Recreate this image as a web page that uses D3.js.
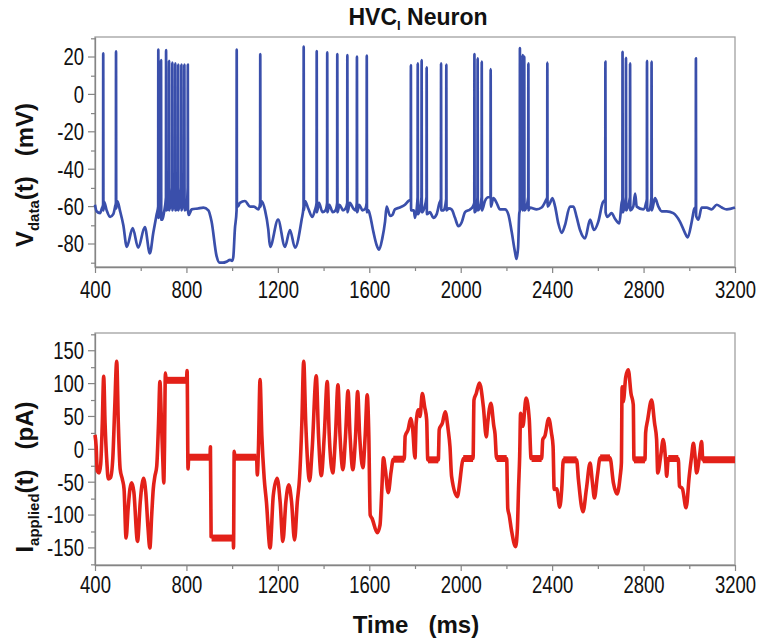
<!DOCTYPE html>
<html><head><meta charset="utf-8">
<script src="https://cdn.jsdelivr.net/npm/d3@7"></script>
<style>
body{margin:0;background:#fff;}
svg{display:block;font-family:"Liberation Sans",Arial,sans-serif;}
</style></head>
<body><svg id="c" width="759" height="642"></svg>
<script>
// ---- data ----
const xTicks = [400,800,1200,1600,2000,2400,2800,3200];
const xMinor = [600,1000,1400,1800,2200,2600,3000];
const vTicks = [-80,-60,-40,-20,0,20];
const vMinor = [-90,-70,-50,-30,-10,10,30];
const iTicks = [-150,-100,-50,0,50,100,150];
const iMinor = [-175,-125,-75,-25,25,75,125,175];

// membrane voltage baseline (ms, mV)
const vBase = [[400,-59],[407,-62.5],[422,-63.5],[430,-61],[440,-57.5],[451,-62],[466,-65.5],[480,-64],[488,-60],[498,-57],[509,-62],[524,-70],[539,-81.5],[565,-71.5],[589,-82],[618,-71],[640,-85],[655,-74],[670,-64],[683,-64],[695,-67],[702,-63],[720,-61],[760,-61],[800,-61],[810,-64.5],[823,-61.5],[850,-61],[874,-60.5],[896,-62],[910,-68],[932,-86.5],[945,-90],[960,-90],[975,-89.5],[991,-88.5],[1000,-89],[1005,-87],[1012,-72],[1025,-60],[1034,-58],[1056,-57],[1078,-60],[1095,-60],[1115,-61.5],[1129,-57],[1144,-62],[1158,-72],[1166,-81.5],[1201,-67],[1231,-81.5],[1253,-72.5],[1275,-82],[1304,-67],[1319,-57],[1333,-61],[1351,-65.5],[1362,-62],[1380,-58],[1395,-63],[1408,-62],[1425,-59],[1440,-63],[1452,-62],[1470,-59],[1485,-62],[1496,-61],[1515,-58],[1530,-61],[1540,-62],[1556,-59],[1570,-62],[1583,-61],[1596,-62],[1603,-64.5],[1618,-73.5],[1632,-80.5],[1643,-83],[1657,-77],[1669,-68],[1676,-60],[1691,-65],[1701,-64.5],[1712,-61.5],[1734,-60.5],[1756,-59],[1771,-57],[1795,-62],[1800,-66],[1820,-62],[1840,-61],[1866,-63],[1880,-66],[1895,-64],[1907,-58],[1925,-62],[1948,-61],[1960,-61.5],[1975,-66],[1990,-70.5],[2004,-68.5],[2019,-63],[2041,-61.5],[2053,-60],[2067,-62],[2082,-61],[2106,-57],[2120,-55],[2143,-55.5],[2157,-58],[2172,-61.5],[2194,-61.5],[2208,-64],[2223,-73.5],[2237,-84],[2244,-88],[2251,-82],[2256,-64],[2285,-61],[2303,-60.5],[2332,-61.5],[2354,-60.5],[2373,-56.5],[2391,-58],[2401,-55.5],[2413,-60],[2427,-69],[2442,-74],[2456,-70],[2478,-60],[2493,-60],[2507,-65.5],[2522,-72.5],[2544,-77],[2566,-67],[2583,-72.5],[2602,-68],[2621,-58],[2642,-65.5],[2660,-63.5],[2675,-66.5],[2694,-69],[2704,-58],[2755,-60],[2763,-53],[2770,-60],[2799,-61.5],[2811,-58],[2825,-62],[2850,-55.5],[2865,-60],[2879,-62.5],[2901,-62.5],[2930,-63.5],[2959,-68],[2981,-74],[2993,-76.5],[3010,-68.5],[3021,-61.5],[3040,-67],[3054,-60.5],[3076,-60.5],[3098,-61.5],[3120,-59],[3142,-60.5],[3164,-61.5],[3200,-60.5]];

// action potentials
const spikeTimes  = [436,492,677,689,711,724,738,751,764,778,791,806,1020,1123,1313,1370,1416,1460,1504,1546,1589,1782,1812,1829,1851,1914,1937,2060,2074,2092,2131,2259,2271,2278,2296,2379,2633,2708,2723,2741,2815,2835,3029];
const spikePeaks  = [22,23,24,18.4,23.7,18,17,16.6,16,16,16,16,24,21.6,25.5,23.2,22.5,21.6,21,20.2,20.7,15.7,16.6,18.4,14.5,16.6,16,21.6,19.3,17.5,13.5,24.8,21,20.2,16.6,17,17.5,22.8,19.6,16.6,17.9,17.5,19.3];
const spikeThresh = [-59,-58,-60,-52,-55,-50,-50,-50,-50,-50,-50,-50,-62,-58,-60,-58,-58,-58,-58,-58,-58,-56,-55,-55,-55,-56,-56,-58,-55,-55,-55,-62,-55,-55,-55,-55,-56,-56,-55,-55,-56,-55,-60];
const spikeTrough = [-62,-61,-66,-67,-62,-62,-62,-62,-62,-62,-62,-62,-60,-60,-62,-63,-63,-63,-63,-63,-63,-62,-64,-63,-64,-62,-62,-63,-62,-62,-60,-62,-62,-62,-62,-60,-63,-63,-62,-62,-62,-62,-65];

// applied current (ms, pA)
const iTrace = [[400,22],[405,5],[410,-33],[418,-36],[425,-22],[432,40],[438,111],[444,40],[452,-20],[458,-45],[468,-43],[478,-13],[486,60],[495,134],[502,40],[510,-30],[520,-46],[527,-60],[536,-135],[545,-90],[553,-60],[561,-51],[570,-65],[586,-140],[598,-80],[605,-55],[612,-44],[622,-65],[632,-120],[640,-150],[648,-100],[655,-60],[662,-41],[670,-26],[678,40],[684,103],[690,50],[697,-20],[701,-51],[704,0],[708,116],[712,104],[800,104],[803,120],[807,-30],[810,-12],[903,-12],[905,4],[908,-133],[1005,-135],[1006,-150],[1009,-3],[1012,-12],[1107,-12],[1110,-39],[1115,0],[1122,106],[1130,20],[1140,-43],[1150,-80],[1166,-150],[1180,-70],[1197,-44],[1210,-80],[1222,-140],[1235,-80],[1248,-54],[1260,-80],[1273,-138],[1285,-80],[1295,-43],[1305,40],[1313,134],[1322,40],[1339,-48],[1350,0],[1368,112],[1378,20],[1390,-40],[1403,20],[1416,103],[1425,20],[1440,-36],[1452,20],[1463,98],[1472,20],[1485,-31],[1496,20],[1507,89],[1516,20],[1528,-31],[1540,20],[1549,88],[1558,20],[1572,-28],[1582,20],[1591,83],[1598,20],[1604,-100],[1612,-105],[1635,-127],[1647,-115],[1655,-60],[1662,-13],[1670,-30],[1683,-66],[1695,-35],[1705,-15],[1753,-15],[1757,20],[1770,30],[1781,47],[1790,30],[1800,-13],[1805,40],[1815,60],[1822,50],[1832,85],[1842,65],[1851,45],[1856,-16],[1902,-16],[1906,30],[1920,40],[1932,57],[1945,30],[1953,4],[1960,-41],[1985,-72],[1996,-50],[2004,-26],[2011,-14],[2054,-14],[2058,75],[2068,85],[2082,101],[2099,65],[2112,19],[2118,40],[2132,70],[2145,35],[2150,24],[2157,-14],[2201,-14],[2206,-90],[2212,-100],[2222,-123],[2240,-148],[2248,-120],[2253,-60],[2258,-10],[2262,55],[2272,35],[2286,78],[2300,45],[2308,-14],[2354,-14],[2359,15],[2368,20],[2385,47],[2397,25],[2404,5],[2409,-61],[2420,-60],[2433,-88],[2442,-60],[2449,-16],[2507,-16],[2515,-46],[2535,-95],[2550,-60],[2566,-21],[2576,-50],[2585,-74],[2598,-40],[2610,-13],[2653,-13],[2668,-51],[2684,-68],[2698,-40],[2703,-21],[2706,95],[2711,72],[2722,110],[2733,121],[2745,85],[2755,68],[2758,-16],[2806,-16],[2809,25],[2818,45],[2835,75],[2848,40],[2857,15],[2862,-36],[2875,-10],[2886,15],[2897,-20],[2901,-41],[2908,-14],[2952,-14],[2957,-56],[2970,-60],[2986,-89],[3000,-40],[3010,-11],[3018,9],[3025,-10],[3032,-36],[3045,-10],[3054,12],[3059,-16],[3200,-16]];

// noisy holding segments of the current [start, end, level]
const iFlats = [[712,800,105],[810,903,-12],[910,1005,-135],[1012,1107,-12],[1705,1753,-15],[1857,1902,-16],[2011,2054,-14],[2157,2201,-14],[2310,2354,-14],[2449,2507,-16],[2610,2653,-13],[2758,2806,-16],[2908,2952,-14],[3059,3200,-16]];

// ---- drawing ----
const svg = d3.select("#c");
const L = 95, R = 735;
const top1 = 37, bot1 = 267, top2 = 333, bot2 = 565;
const x = d3.scaleLinear([400,3200],[L,R]);
const yV = d3.scaleLinear([-92.3,30.7],[bot1,top1]);
const yI = d3.scaleLinear([-176,177],[bot2,top2]);
const axisColor = "#858585";
const blue = "#3a4fab", red = "#e32119";
const fs = 18.5, sy = 1.28;
const fmt = d => String(d);

function frame(t,b){
  svg.append("rect").attr("x",L).attr("y",t).attr("width",R-L).attr("height",b-t)
    .attr("fill","none").attr("stroke","#a0a0a0").attr("stroke-width",1.3);
}
function xAxis(yPos, labelY){
  const gm = svg.append("g").attr("transform",`translate(0,${yPos})`)
    .call(d3.axisBottom(x).tickValues(xMinor).tickSize(4).tickFormat(""));
  gm.select(".domain").remove();
  gm.selectAll("line").attr("stroke",axisColor).attr("stroke-width",1.2);
  const g = svg.append("g").attr("transform",`translate(0,${yPos})`)
    .call(d3.axisBottom(x).tickValues(xTicks).tickSize(6).tickSizeOuter(0).tickFormat(fmt));
  g.select(".domain").attr("stroke",axisColor).attr("stroke-width",1.3);
  g.selectAll("line").attr("stroke",axisColor).attr("stroke-width",1.2);
  g.selectAll("text").attr("font-size",fs).attr("fill","#111").attr("dy",null)
    .attr("y",labelY).attr("transform",`scale(1,${sy})`).style("font-family","'Liberation Sans',Arial,sans-serif");
}
function yAxis(scale, majors, minors){
  const gm = svg.append("g").attr("transform",`translate(${L},0)`)
    .call(d3.axisLeft(scale).tickValues(minors).tickSize(4).tickFormat(""));
  gm.select(".domain").remove();
  gm.selectAll("line").attr("stroke",axisColor).attr("stroke-width",1.2);
  const g = svg.append("g").attr("transform",`translate(${L},0)`)
    .call(d3.axisLeft(scale).tickValues(majors).tickSize(7).tickSizeOuter(0).tickFormat(fmt));
  g.select(".domain").attr("stroke",axisColor).attr("stroke-width",1.3);
  g.selectAll("line").attr("stroke",axisColor).attr("stroke-width",1.2);
  g.selectAll(".tick").each(function(d){
    const tk = d3.select(this);
    const yy = scale(d);
    tk.attr("transform",null);
    tk.select("line").attr("y1",yy).attr("y2",yy);
    tk.select("text").attr("dy",null).attr("x",-11).attr("y",0)
      .attr("transform",`translate(0,${yy}) scale(1,${sy}) translate(0,6.6)`)
      .attr("font-size",fs).attr("fill","#111").style("font-family","'Liberation Sans',Arial,sans-serif");
  });
}

frame(top1,bot1);
frame(top2,bot2);
xAxis(bot1, 24);
xAxis(bot2, 22);
yAxis(yV, vTicks, vMinor);
yAxis(yI, iTicks, iMinor);

// voltage trace
const spikePts = spikeTimes.flatMap((t,k)=>[[t-0.6,spikeThresh[k]],[t,spikePeaks[k]],[t+0.9,spikeTrough[k]]]);
const vPts = vBase.concat(spikePts).sort((a,b)=>a[0]-b[0]);
const vLine = d3.line().x(d=>x(d[0])).y(d=>yV(d[1])).curve(d3.curveMonotoneX);
svg.append("path").datum(vPts).attr("d",vLine).attr("fill","none")
  .attr("stroke",blue).attr("stroke-width",2.7).attr("stroke-linejoin","round");

// current trace
const iLine = d3.line().x(d=>x(d[0])).y(d=>yI(d[1])).curve(d3.curveMonotoneX);
svg.append("g").selectAll("line").data(iFlats).join("line")
  .attr("x1",d=>x(d[0])).attr("x2",d=>x(d[1])).attr("y1",d=>yI(d[2])).attr("y2",d=>yI(d[2]))
  .attr("stroke",red).attr("stroke-width",7);
svg.append("path").datum(iTrace).attr("d",iLine).attr("fill","none")
  .attr("stroke",red).attr("stroke-width",3.6).attr("stroke-linejoin","round");

// titles
const t = svg.append("text").attr("x",418).attr("y",25).attr("text-anchor","middle")
  .attr("font-size",23).attr("font-weight","bold").attr("fill","#111");
t.append("tspan").text("HVC");
t.append("tspan").text("I").attr("font-size",13).attr("dy",5);
t.append("tspan").text(" Neuron").attr("dy",-5);

function yLabel(cy, main, sub, rest){
  const tx = svg.append("text").attr("transform",`translate(33,${cy}) rotate(-90)`)
    .attr("text-anchor","middle").attr("font-size",24).attr("font-weight","bold").attr("fill","#111");
  tx.append("tspan").text(main);
  tx.append("tspan").text(sub).attr("font-size",15).attr("dy",6);
  tx.append("tspan").text(rest).attr("dy",-6).style("white-space","pre");
  tx.attr("xml:space","preserve");
}
yLabel(175,"V","data","(t)   (mV)");
yLabel(477,"I","applied","(t)   (pA)");

svg.append("text").attr("x",416).attr("y",633).attr("text-anchor","middle")
  .attr("font-size",24).attr("font-weight","bold").attr("fill","#111")
  .attr("xml:space","preserve").style("white-space","pre").text("Time   (ms)");
</script></body></html>
